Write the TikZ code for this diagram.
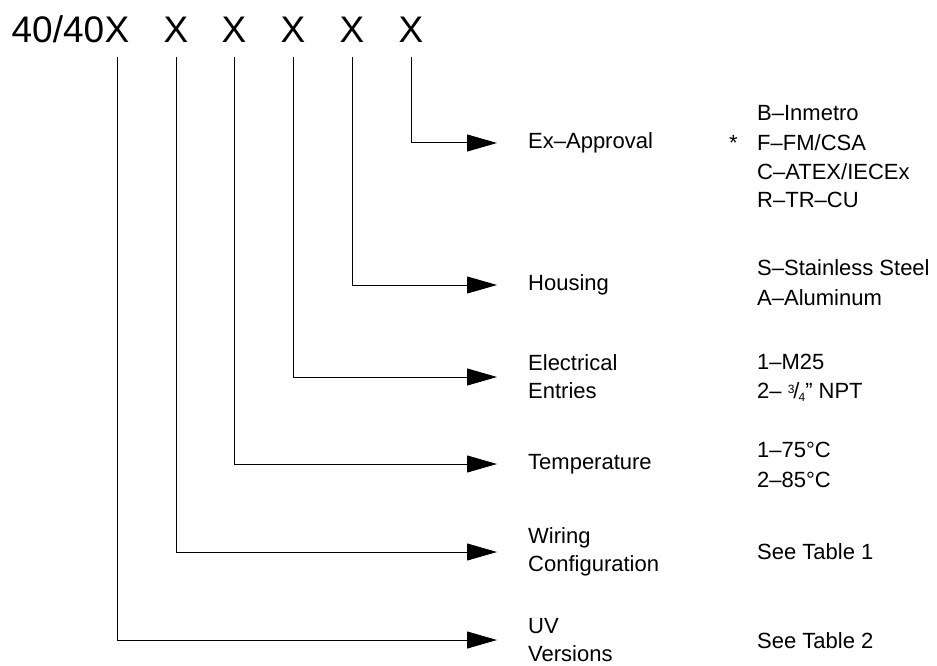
\documentclass[tikz,border=0pt]{standalone}
\usepackage{fontspec}
\setmainfont{Liberation Sans}
\usetikzlibrary{arrows.meta,positioning}

\begin{document}
\begin{tikzpicture}[x=1pt,y=-1pt,
  hdr/.style={font=\fontsize{37}{40}\selectfont,inner sep=0pt,anchor=base},
  lab/.style={font=\fontsize{22}{28}\selectfont,inner sep=0pt,anchor=west,align=left},
  opt/.style={font=\fontsize{22}{29}\selectfont,inner sep=0pt,anchor=west},
  conn/.style={line width=1pt,-{Triangle[length=30pt,width=17pt]},shorten <=14pt,shorten >=31pt}]

  \useasboundingbox (0,0) rectangle (937,666);

  % the model code
  \node[hdr] (x1) at (117,43) {X};
  \node[hdr,anchor=base east] (model) at (x1.base west) {40/40};
  \node[hdr] (x2) at (176,43) {X};
  \node[hdr] (x3) at (234,43) {X};
  \node[hdr] (x4) at (293,43) {X};
  \node[hdr] (x5) at (352,43) {X};
  \node[hdr] (x6) at (411,43) {X};

  % what each letter stands for
  \node[lab] (approval) at (528,143) {Ex--Approval};
  \node[lab] (housing) at (528,285) {Housing};
  \node[lab] (entries) at (528,377) {Electrical\\Entries};
  \node[lab] (temp) at (528,464) {Temperature};
  \node[lab] (wiring) at (528,552) {Wiring\\Configuration};
  \node[lab] (uv) at (528,640) {UV\\Versions};

  % the options
  \node[opt] (inmetro) at (757,113) {B--Inmetro};
  \node[opt] (fmcsa) at (757,143) {F--FM/CSA};
  \node[opt] (atex) at (757,172) {C--ATEX/IECEx};
  \node[opt] (trcu) at (757,200) {R--TR--CU};
  \node[opt,left=19pt of fmcsa] (star) {\raisebox{-0.25em}{*}};%the default
  \node[opt] (steel) at (757,268) {S--Stainless Steel};
  \node[opt] (alu) at (757,298) {A--Aluminum};
  \node[opt] (m25) at (757,362) {1--M25};
  \node[opt] (npt) at (757,392) {2-- \raisebox{0.45ex}{\fontsize{12}{12}\selectfont 3}\kern-1pt/\kern-1pt\raisebox{-0.2ex}{\fontsize{12}{12}\selectfont 4}" NPT};
  \node[opt] (t75) at (757,450) {1--75°C};
  \node[opt] (t85) at (757,480) {2--85°C};
  \node[opt] (table1) at (757,552) {See Table 1};
  \node[opt] (table2) at (757,641) {See Table 2};

  % the leaders
  \draw[conn] (x6.south) |- (approval.west);
  \draw[conn] (x5.south) |- (housing.west);
  \draw[conn] (x4.south) |- (entries.west);
  \draw[conn] (x3.south) |- (temp.west);
  \draw[conn] (x2.south) |- (wiring.west);
  \draw[conn] (x1.south) |- (uv.west);
\end{tikzpicture}
\end{document}
